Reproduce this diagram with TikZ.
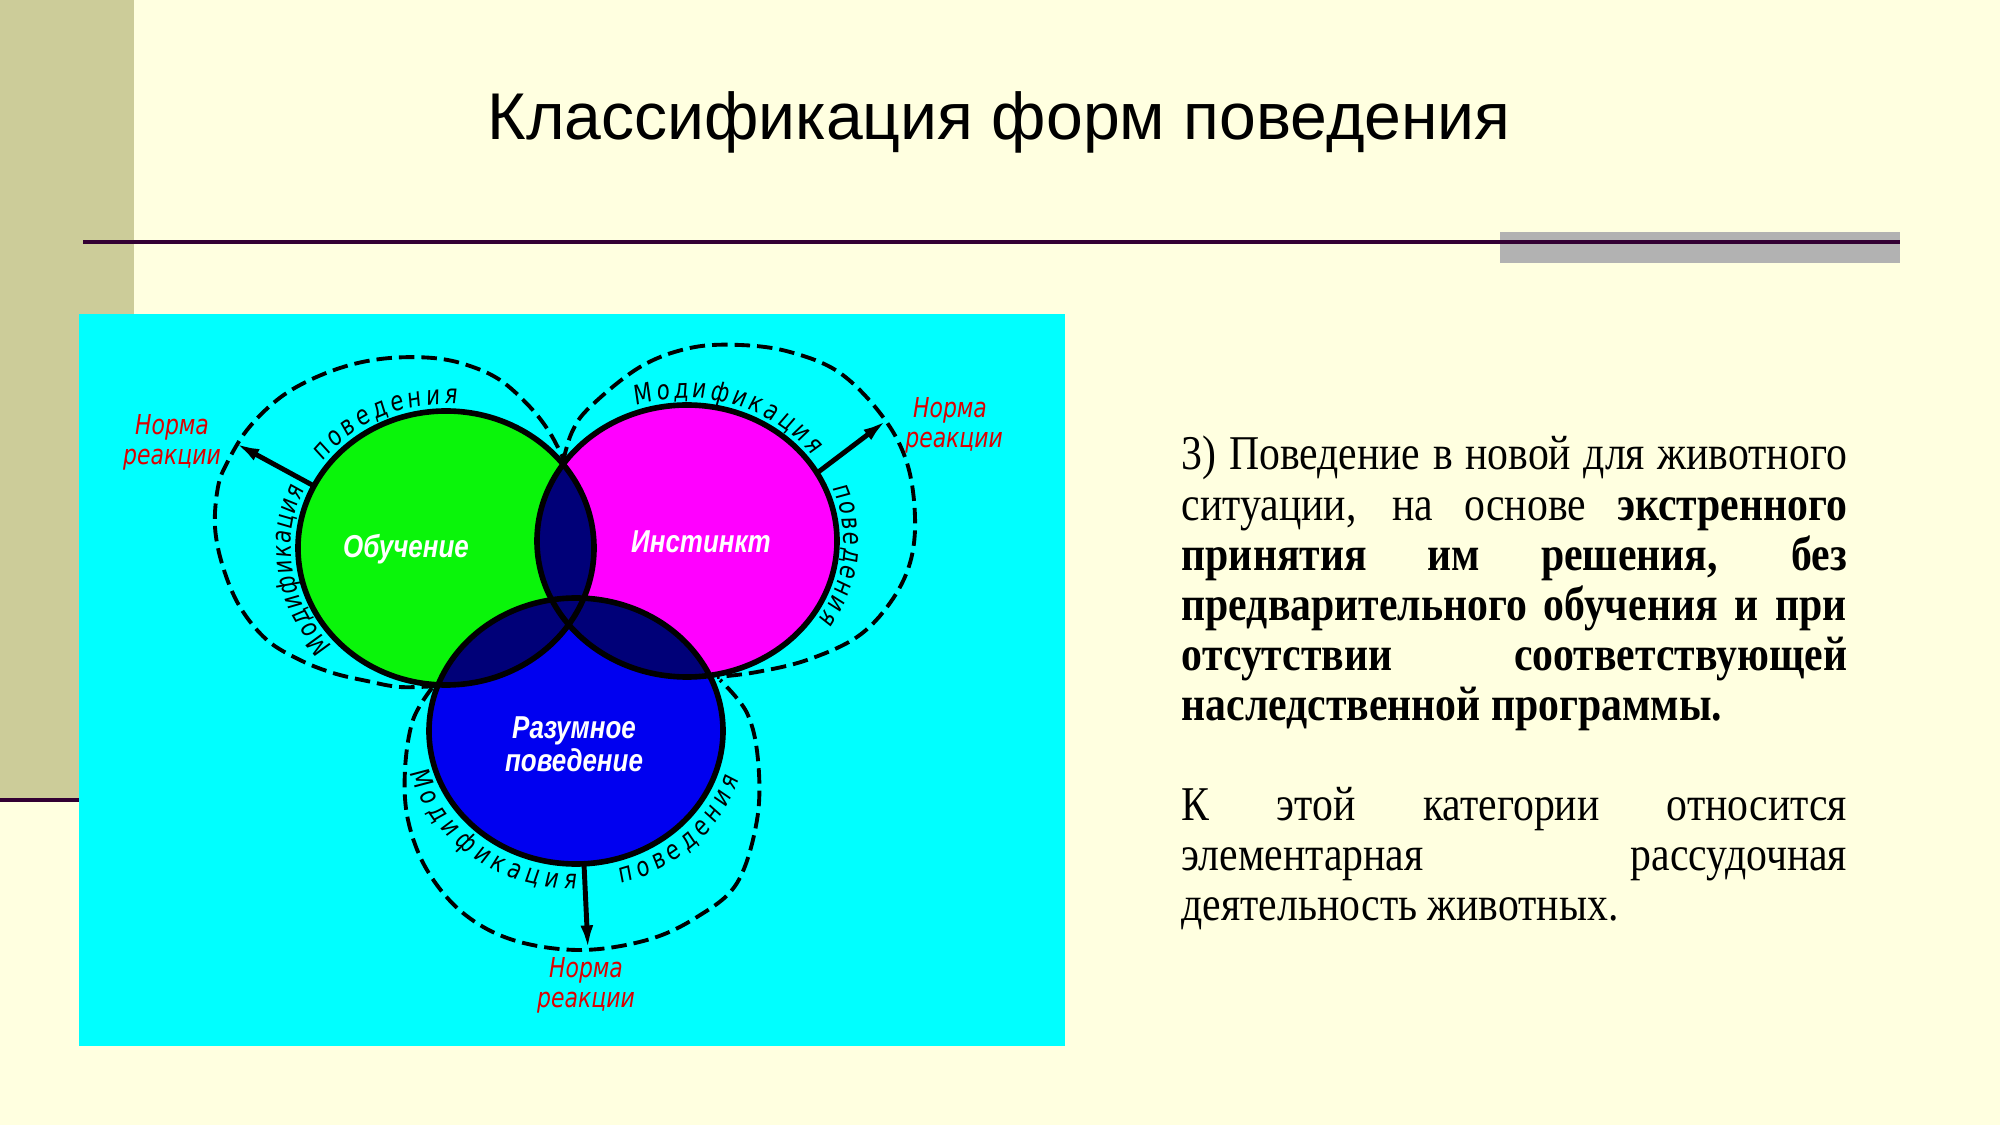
\documentclass[tikz,border=0pt]{standalone}
\usepackage{fontspec}
\setmainfont{Liberation Serif}
\newfontfamily\bodyfont[FakeStretch=0.86]{Liberation Serif}
\newfontfamily\titlefont{Liberation Sans}
\newfontfamily\gostfont[FakeSlant=0.1,FakeStretch=0.8]{DejaVu Sans}
\newfontfamily\normfont[FakeStretch=0.8]{DejaVu Sans}
\newfontfamily\whitefont[FakeStretch=0.82]{Liberation Sans}
\usetikzlibrary{decorations.text,arrows.meta,calc}
\definecolor{bgcream}{RGB}{255,255,224}
\definecolor{sidebar}{RGB}{204,204,153}
\definecolor{linepurple}{RGB}{51,0,51}
\definecolor{grayrect}{RGB}{178,178,178}
\definecolor{cyanbg}{RGB}{0,255,255}
\definecolor{vgreen}{RGB}{10,245,10}
\definecolor{vmag}{RGB}{255,0,255}
\definecolor{vblue}{RGB}{0,0,240}
\definecolor{vnavy}{RGB}{0,0,120}
\definecolor{vred}{RGB}{220,0,0}
\newcommand{\curvetext}{\gostfont\fontsize{7.6}{8}\selectfont}
\newcommand{\jline}[1]{\makebox[6.65cm][s]{#1}}
\tikzset{
  titlestyle/.style={inner sep=0, font=\titlefont\fontsize{18.8}{22}\selectfont},
  rtext/.style={anchor=base west, inner sep=0, font=\bodyfont\fontsize{13.8}{15}\selectfont},
  outline/.style={draw=black, line width=1.6pt},
  dashloop/.style={draw=black, line width=1.1pt, dash pattern=on 4.4pt off 2pt},
  normstyle/.style={text=vred, align=center, inner sep=0, font=\normfont\itshape\fontsize{7.8}{8.6}\selectfont},
  whitestyle/.style={text=white, align=center, inner sep=0, font=\whitefont\bfseries\itshape\fontsize{9}{9.5}\selectfont},
  normarrow/.style={draw=black, line width=1.4pt, -{Latex[length=7pt,width=3.6pt]}},
}
\begin{document}
\begin{tikzpicture}[x=0.01cm,y=-0.01cm]
\useasboundingbox (0,0) rectangle (2000,1125);
\fill[bgcream] (0,0) rectangle (2000,1125);
\fill[sidebar] (0,0) rectangle (134,798);
\draw[linepurple, line width=1.2pt] (0,800) -- (79,800);
\fill[grayrect] (1500,232) rectangle (1900,263);
\draw[linepurple, line width=1.2pt] (83,242) -- (1900,242);
\node[titlestyle] (title) at (999,122) {Классификация форм поведения};
\fill[cyanbg] (79,314) rectangle (1065,1046);

\coordinate (G) at (446,548);
\coordinate (M) at (687,541);
\coordinate (B) at (576,731);

\fill[vgreen] (G) ellipse[x radius=148, y radius=137];
\fill[vmag] (M) ellipse[x radius=150, y radius=136];
\fill[vblue] (B) ellipse[x radius=147, y radius=133];
\begin{scope}
  \clip (G) ellipse[x radius=148, y radius=137];
  \fill[vnavy] (M) ellipse[x radius=150, y radius=136];
  \fill[vnavy] (B) ellipse[x radius=147, y radius=133];
\end{scope}
\begin{scope}
  \clip (M) ellipse[x radius=150, y radius=136];
  \fill[vnavy] (B) ellipse[x radius=147, y radius=133];
\end{scope}
\draw[outline] (G) ellipse[x radius=148, y radius=137];
\draw[outline] (M) ellipse[x radius=150, y radius=136];
\draw[outline] (B) ellipse[x radius=147, y radius=133];

% dashed outer loops
\draw[dashloop] plot[smooth, tension=0.6] coordinates {(437,686) (400,687) (367,681) (333,673) (300,660) (267,640) (240,607) (223,567) (215,527) (218,487) (227,463) (247,430) (277,400) (310,380) (350,365) (390,358) (433,358) (467,365) (500,380) (530,407) (550,433) (565,462)};
\draw[dashloop] plot[smooth, tension=0.6] coordinates {(563,462) (572,432) (590,407) (640,367) (690,348) (740,345) (790,352) (840,373) (883,417) (907,463) (915,517) (910,563) (890,603) (857,637) (807,660) (757,672) (717,677)};
\draw[dashloop] plot[smooth, tension=0.6] coordinates {(432,688) (413,720) (405,770) (408,820) (427,870) (463,913) (513,940) (580,950) (647,940) (697,917) (737,883) (757,820) (758,760) (747,713) (720,680)};

% curved texts
\path[decorate, decoration={text along path, text align=fit to path, text={|\curvetext|Модификация}}]
  plot[domain=137:204, samples=50] ({446+155*cos(\x)},{548+144*sin(\x)});
\path[decorate, decoration={text along path, text align=fit to path, text={|\curvetext|поведения}}]
  plot[domain=217:274, samples=50] ({446+155*cos(\x)},{548+144*sin(\x)});
\path[decorate, decoration={text along path, text align=fit to path, text={|\curvetext|Модификация}}]
  plot[domain=251:323, samples=50] ({687+157*cos(\x)},{541+143*sin(\x)});
\path[decorate, decoration={text along path, text align=fit to path, text={|\curvetext|поведения}}]
  plot[domain=338:393, samples=50] ({687+157*cos(\x)},{541+143*sin(\x)});
\path[decorate, decoration={text along path, text align=fit to path, text={|\curvetext|Модификация}}]
  plot[domain=0:1, samples=50] ({576+172*cos(165-75*\x)},{731+158*sin(165-75*\x)});
\path[decorate, decoration={text along path, text align=fit to path, text={|\curvetext|поведения}}]
  plot[domain=0:1, samples=50] ({576+172*cos(75-57*\x)},{731+158*sin(75-57*\x)});

% arrows
\coordinate (ga1) at (314,486);
\coordinate (ga2) at (235,443);
\coordinate (ma1) at (817,473);
\coordinate (ma2) at (887,420);
\coordinate (ba1) at (584,864);
\coordinate (ba2) at (588,950);
\draw[normarrow] (ga1) -- (ga2);
\draw[normarrow] (ma1) -- (ma2);
\draw[normarrow] (ba1) -- (ba2);

\node[normstyle] (norm1) at (172,442) {Норма\\реакции};
\node[normstyle] (norm2) at (950,425) {Норма\\\hspace*{0.3em}реакции};
\node[normstyle] (norm3) at (586,985) {Норма\\реакции};

\node[whitestyle] (learn) at (406,549) {Обучение};
\node[whitestyle] (inst) at (701,542) {Инстинкт};
\node[whitestyle] (reason) at (574,744) {Разумное\\поведение};

% right text
\node[rtext] (l1) at (1181,470) {\jline{3) Поведение в новой для животного}};
\node[rtext] (l2) at (1181,521) {\jline{ситуации, на основе \textbf{экстренного}}};
\node[rtext] (l3) at (1181,571) {\jline{\textbf{принятия им решения, без}}};
\node[rtext] (l4) at (1181,621) {\jline{\textbf{предварительного обучения и при}}};
\node[rtext] (l5) at (1181,671) {\jline{\textbf{отсутствии соответствующей}}};
\node[rtext] (l6) at (1181,720) {\textbf{наследственной программы.}};
\node[rtext] (l7) at (1181,820) {\jline{К этой категории относится}};
\node[rtext] (l8) at (1181,870) {\jline{элементарная рассудочная}};
\node[rtext] (l9) at (1181,920) {деятельность животных.};
\end{tikzpicture}
\end{document}
